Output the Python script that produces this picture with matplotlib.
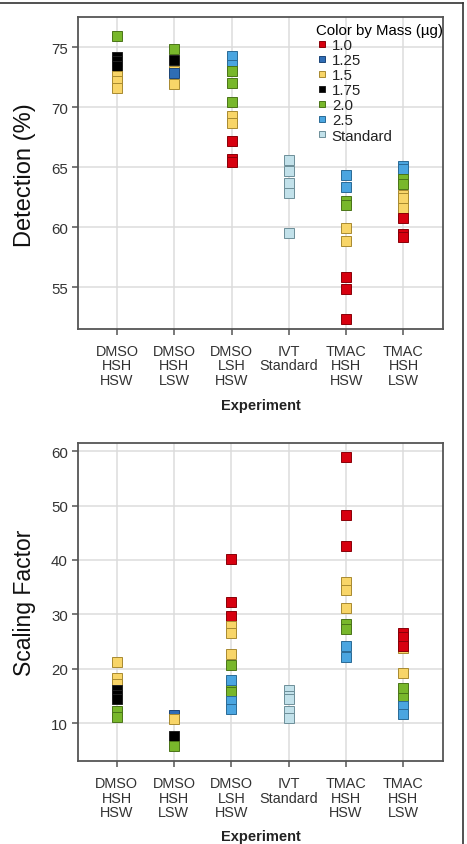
import matplotlib
matplotlib.use("Agg")
import matplotlib.pyplot as plt
from matplotlib.lines import Line2D

REG = 'Liberation Sans'
plt.rcParams['font.family'] = [REG, 'DejaVu Sans']

# ---------------- data ----------------
experiments = ["DMSO\nHSH\nHSW", "DMSO\nHSH\nLSW", "DMSO\nLSH\nHSW",
               "IVT\nStandard", "TMAC\nHSH\nHSW", "TMAC\nHSH\nLSW"]
mass_levels = ["1.0", "1.25", "1.5", "1.75", "2.0", "2.5", "Standard"]
mass_colors = ["#d7000f", "#2f6db5", "#f8d568", "#000000", "#78b72b", "#4aa5e0", "#c2e1ea"]
mass_edges = ["#8a0008", "#1c4578", "#a88a30", "#222222", "#4a7418", "#2a6a96", "#6d8f99"]

# Detection (%) panel
det_exp = [0, 0, 0, 0, 0, 0, 0,
           1, 1, 1, 1, 1,
           2, 2, 2, 2, 2, 2, 2, 2, 2, 2,
           3, 3, 3, 3, 3,
           4, 4, 4, 4, 4, 4, 4, 4, 4,
           5, 5, 5, 5, 5, 5, 5, 5, 5, 5]
det_mass = ["2.0", "1.75", "1.75", "1.75", "1.5", "1.5", "1.5",
            "2.0", "1.5", "1.75", "1.25", "1.5",
            "2.5", "2.5", "2.0", "2.0", "2.0", "1.5", "1.5", "1.0", "1.0", "1.0",
            "Standard", "Standard", "Standard", "Standard", "Standard",
            "2.5", "2.5", "2.0", "2.0", "1.5", "1.5", "1.0", "1.0", "1.0",
            "2.5", "2.5", "2.0", "2.0", "1.5", "1.5", "1.5", "1.0", "1.0", "1.0"]
det_val = [75.9, 74.2, 73.8, 73.4, 72.6, 72.2, 71.6,
           74.85, 73.0, 73.9, 72.87, 71.9,
           74.25, 73.5, 73.0, 72.0, 70.4, 69.25, 68.7, 67.2, 65.7, 65.4,
           65.55, 64.67, 63.7, 62.85, 59.5,
           64.3, 63.37, 62.2, 61.8, 59.9, 58.8, 55.8, 54.8, 52.35,
           65.1, 64.8, 64.0, 63.55, 62.7, 62.45, 61.55, 60.75, 59.45, 59.2]

# Scaling Factor panel
sf_exp = [0, 0, 0, 0, 0, 0, 0, 0,
          1, 1, 1, 1,
          2, 2, 2, 2, 2, 2, 2, 2, 2, 2, 2, 2,
          3, 3, 3, 3, 3,
          4, 4, 4, 4, 4, 4, 4, 4, 4, 4,
          5, 5, 5, 5, 5, 5, 5, 5, 5]
sf_mass = ["1.5", "1.5", "1.5", "1.75", "1.75", "1.75", "2.0", "2.0",
           "1.25", "1.5", "1.75", "2.0",
           "1.0", "1.0", "1.0", "1.5", "1.5", "1.5", "2.0", "2.0", "2.0", "2.5", "2.5", "2.5",
           "Standard", "Standard", "Standard", "Standard", "Standard",
           "1.0", "1.0", "1.0", "1.5", "1.5", "1.5", "2.0", "2.0", "2.5", "2.5",
           "1.5", "1.0", "1.0", "1.0", "1.5", "2.0", "2.0", "2.5", "2.5"]
sf_val = [21.3, 18.3, 17.2, 16.1, 15.2, 14.4, 12.3, 11.2,
          11.6, 10.7, 7.7, 5.8,
          40.2, 32.3, 29.7, 27.8, 26.6, 22.8, 20.7, 16.9, 15.8, 17.9, 14.0, 12.6,
          16.1, 15.0, 14.4, 12.3, 11.0,
          59.0, 48.2, 42.5, 35.9, 34.5, 31.1, 28.2, 27.3, 24.2, 22.1,
          23.9, 26.6, 25.9, 24.2, 19.2, 16.4, 14.7, 13.1, 11.7]

det_yticks = [55, 60, 65, 70, 75]
sf_yticks = [10, 20, 30, 40, 50, 60]

# ---------------- figure ----------------
W, H = 467, 845
fig = plt.figure(figsize=(W / 100, H / 100), dpi=100)
fig.patch.set_facecolor("white")

ax1 = fig.add_axes([78 / W, 1 - 330 / H, 365 / W, 312 / H])
ax2 = fig.add_axes([77.5 / W, 1 - 762.3 / H, 365.5 / W, 318.3 / H])

cmap = dict(zip(mass_levels, mass_colors))
emap = dict(zip(mass_levels, mass_edges))


def draw(ax, xs, ms, vs, ylim, yticks):
    for x, m, v in zip(xs, ms, vs):
        ax.plot(x, v, ls="none", marker="s", ms=7.3, mfc=cmap[m], mec=emap[m], mew=0.7, zorder=3)
    ax.set_xlim(-0.68, 5.69)
    ax.set_ylim(*ylim)
    ax.set_xticks(range(len(experiments)))
    ax.set_xticklabels(experiments, fontsize=10.4, linespacing=1.06, color="#333333")
    ax.set_yticks(yticks)
    ax.set_yticklabels([str(t) for t in yticks], fontsize=10.8, color="#333333")
    ax.grid(True, color="#dcdcdc", lw=1.1, zorder=0)
    ax.set_axisbelow(True)
    for s in ax.spines.values():
        s.set_color("#555555")
        s.set_linewidth(1.3)
    ax.tick_params(direction="out", length=4, width=1.1, color="#555555", pad=3)
    ax.tick_params(axis="x", pad=6.5)
    ax.set_facecolor("white")


draw(ax1, det_exp, det_mass, det_val, (51.5, 77.5), det_yticks)
draw(ax2, sf_exp, sf_mass, sf_val, (3.0, 61.5), sf_yticks)

# axis labels
fig.text(25 / W, 1 - 175 / H, "Detection (%)", rotation=90, ha="center", va="center",
         fontsize=17, color="#111111")
fig.text(25 / W, 1 - 603 / H, "Scaling Factor", rotation=90, ha="center", va="center",
         fontsize=16.5, color="#111111")
fig.text(261 / W, 1 - 406 / H, "Experiment", ha="center", va="center",
         fontsize=10.5, fontweight="bold", color="#222222")
fig.text(261 / W, 1 - 837 / H, "Experiment", ha="center", va="center",
         fontsize=10.5, fontweight="bold", color="#222222")

# legend
handles = [Line2D([], [], ls="none", marker="s", ms=5, mfc=c, mec=e, mew=0.7)
           for c, e in zip(mass_colors, mass_edges)]
leg = ax1.legend(handles, mass_levels, title="Color by Mass (\u00b5g)", loc="upper left",
                 bbox_to_anchor=(0.648, 0.985), frameon=False, fontsize=10.8, title_fontsize=10.8,
                 labelspacing=0.07, handletextpad=0.25, handlelength=0.8, borderaxespad=0,
                 borderpad=0.1, alignment="left")
for t in leg.get_texts():
    t.set_color("#222222")

# panel border lines
fig.add_artist(Line2D([0, 463 / W], [1 - 4 / H, 1 - 4 / H], color="#333333", lw=1.2))
fig.add_artist(Line2D([463 / W, 463 / W], [1 - 4 / H, 0], color="#333333", lw=1.2))

fig.savefig("out.png", dpi=100)
